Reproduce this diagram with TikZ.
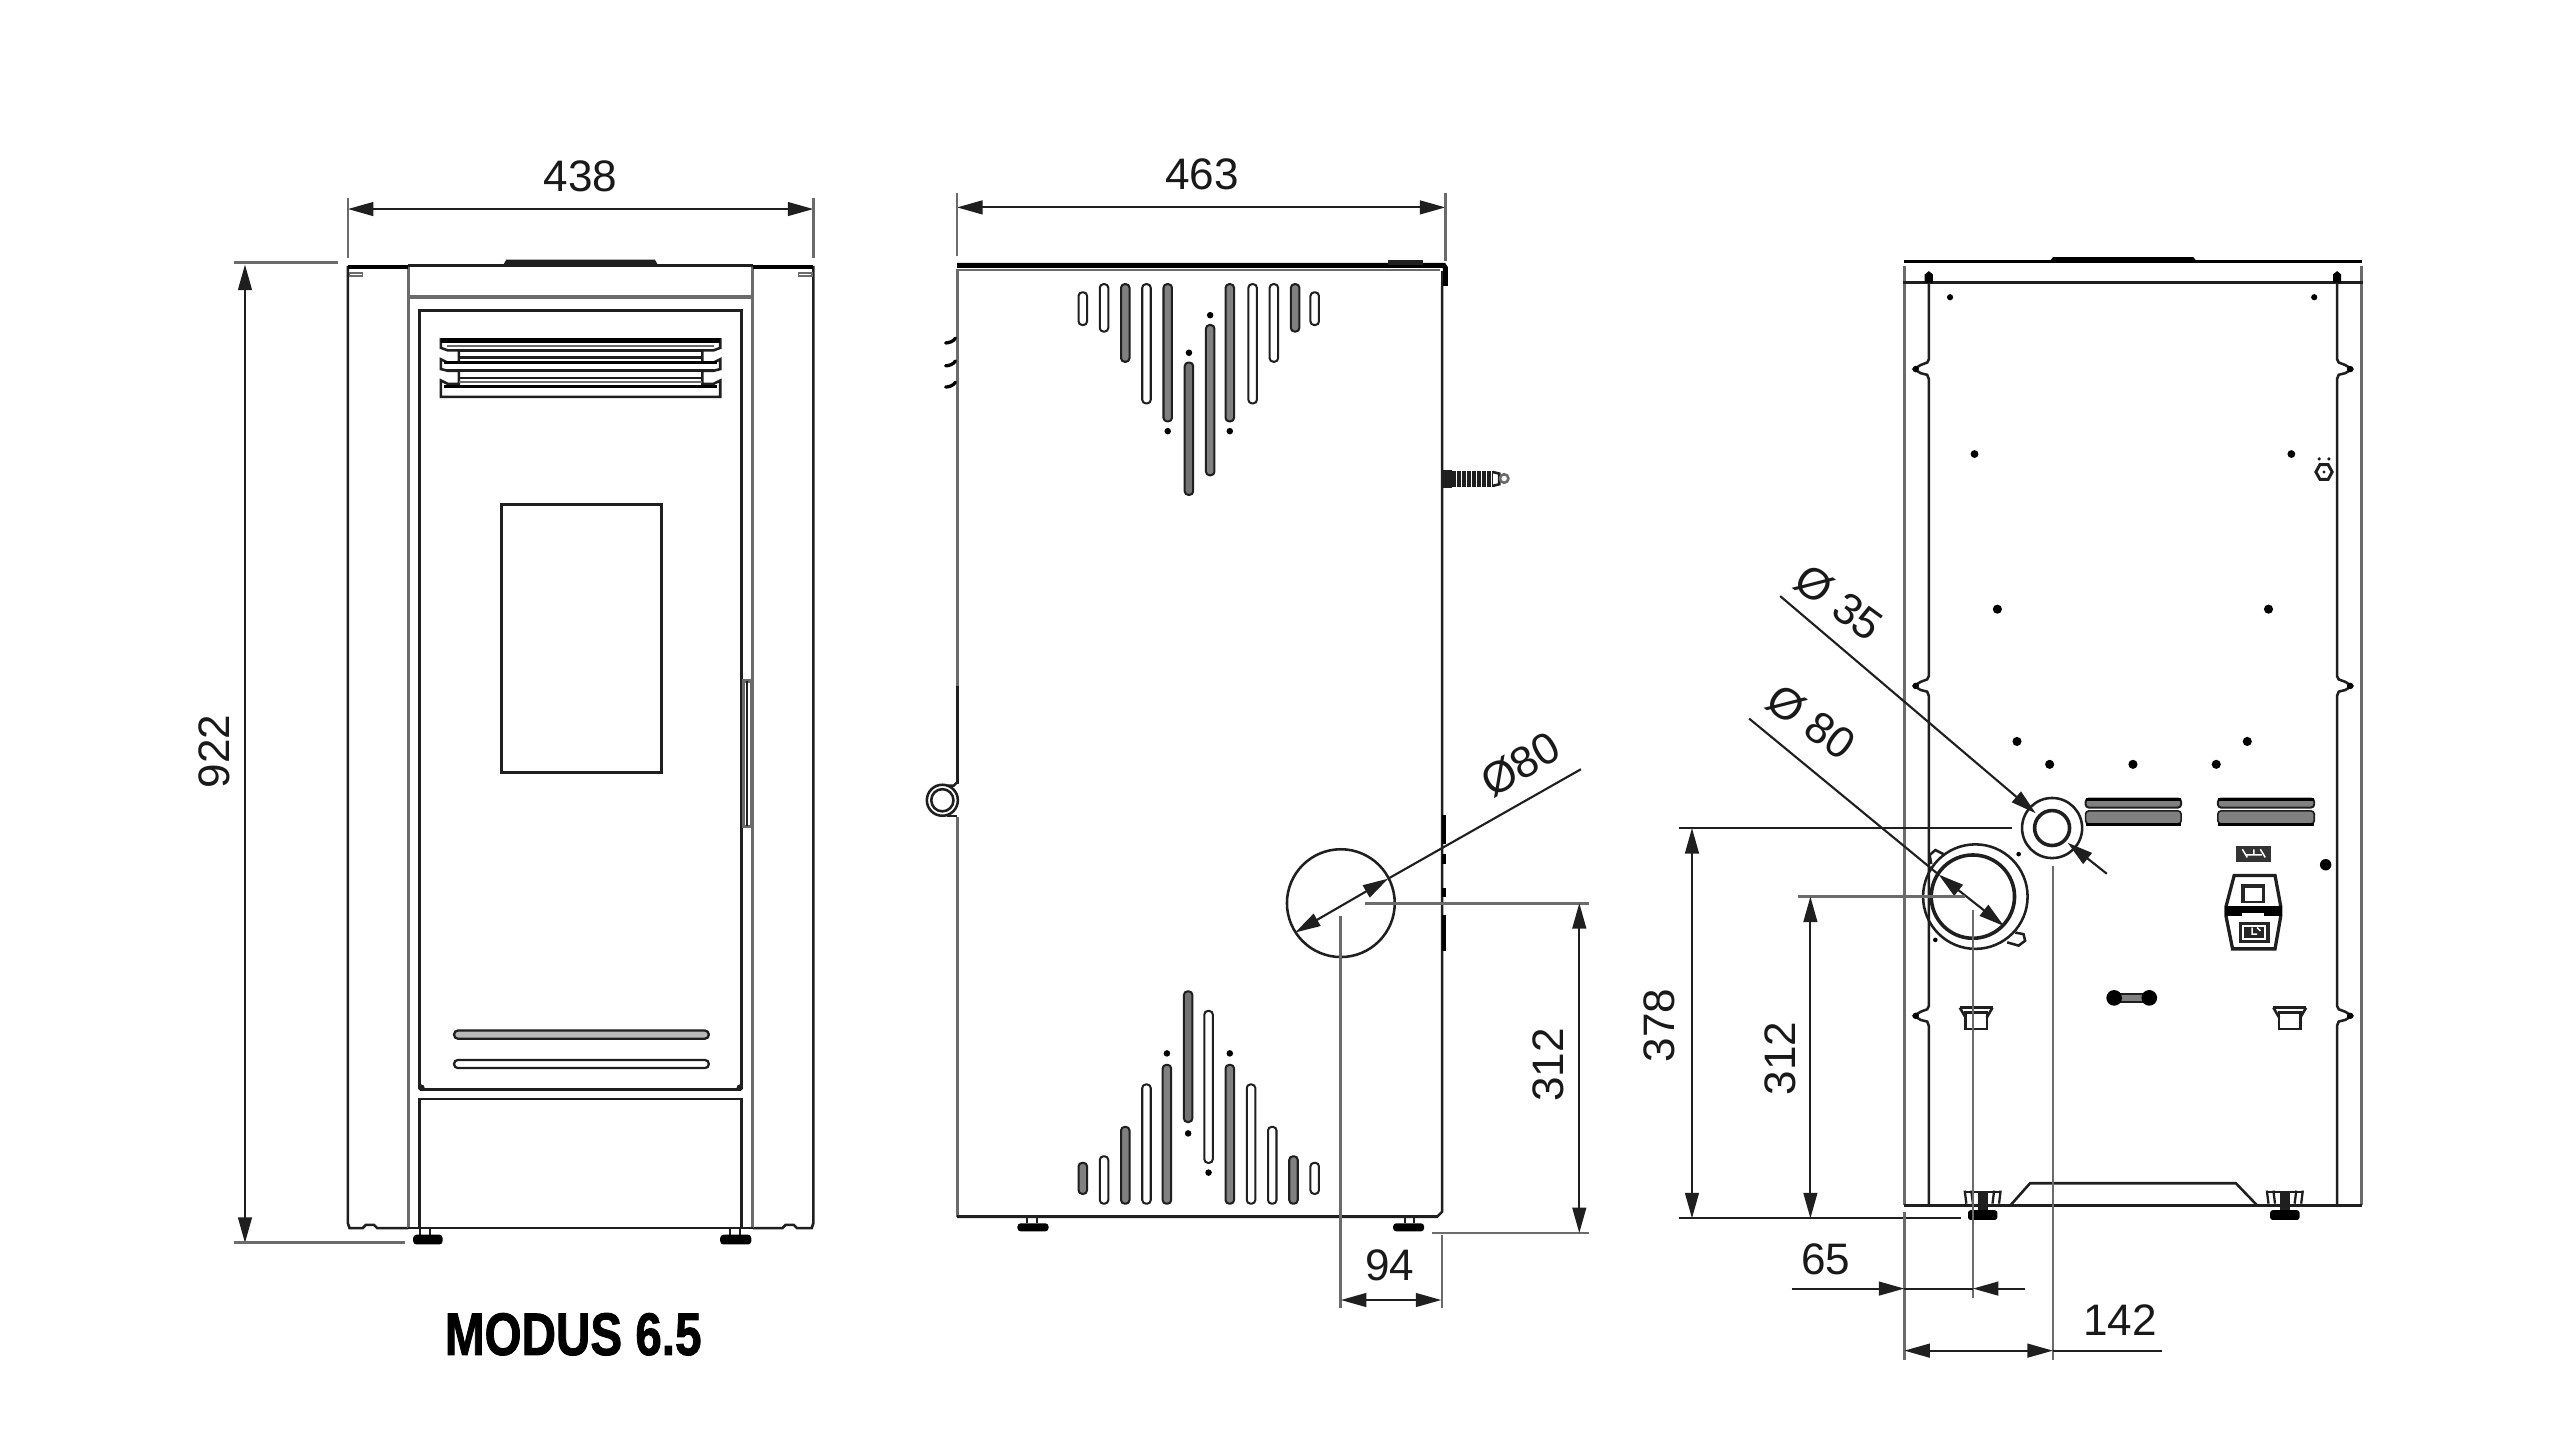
\documentclass[tikz,border=0pt]{standalone}
\usepackage{fontspec}
\setmainfont{Liberation Sans}
\newfontfamily\modfont[FakeBold=1.6]{Liberation Sans Bold}
\usetikzlibrary{arrows.meta}
\definecolor{ln}{gray}{0.12}
\definecolor{gl}{gray}{0.42}
\definecolor{sf}{gray}{0.5}
\tikzset{
  ol/.style={draw=ln,line width=0.78pt},
  hv/.style={draw=black,line width=1.25pt},
  gy/.style={draw=gl,line width=0.95pt},
  dim/.style={draw=ln,line width=0.65pt},
  ext/.style={draw=gl,line width=0.75pt},
  tip/.style={{Triangle[length=7.8pt,width=4.2pt]}-{Triangle[length=7.8pt,width=4.2pt]},draw=ln,line width=0.65pt},
  endtip/.style={-{Triangle[length=7.8pt,width=4.2pt]},draw=ln,line width=0.65pt},
  lab/.style={font=\fontsize{13.5}{15}\selectfont,text=black!90,inner sep=0pt},
  slot/.style={draw=ln,line width=0.62pt,rounded corners=1.1pt,fill=white},
  slotg/.style={draw=ln,line width=0.62pt,rounded corners=1.1pt,fill=sf},
  slotd/.style={draw=ln,line width=0.62pt,rounded corners=1.1pt,fill=black!55},
  dot/.style={fill=black,draw=none}
}
\newcommand{\slt}[4]{\draw[#1] (#2-2.6,#3) rectangle (#2+2.6,#4);}
\begin{document}
\begin{tikzpicture}[x=0.5pt,y=-0.5pt]
\useasboundingbox (0,0) rectangle (1567.5,882.4);
\fill[white] (0,0) rectangle (1567.5,882.4);

%%%%% FRONT VIEW
\draw[ol] (213,163) -- (213,749) -- (214,752) -- (222,752) -- (224,750) -- (229,750) -- (231,752) -- (250,752);
\draw[ol] (498,163) -- (498,749) -- (497,752) -- (488,752) -- (486,750) -- (481,750) -- (479,752) -- (461,752);
\draw[gy] (250,163) -- (250,752);
\draw[gy] (461,163) -- (461,752);
\draw[hv] (213,163.5) -- (250,163.5);
\draw[hv] (461,163.5) -- (498,163.5);
\draw[ol] (250,162.5) -- (461,162.5);
\draw[gy,line width=1.1pt] (250,182) -- (461,182);
\fill[ln] (308,162.5) -- (310,159) -- (401,159) -- (403,162.5) -- cycle;
\draw[gl,line width=0.5pt] (214,167) rectangle (222,169);
\draw[gl,line width=0.5pt] (489,167) rectangle (497,169);
% door
\draw[ol] (257,667) -- (257,190) -- (454,190) -- (454,667);
\draw[ol] (257,752) -- (257,673) -- (454,673) -- (454,752);
\draw[ln,line width=0.8pt] (250,752) -- (461,752);
\fill[ln] (258,666) circle[radius=2];
\fill[ln] (453,666) circle[radius=2];
\draw[ln,line width=0.95pt] (257,667) -- (454,667);
% top grille
\draw[ol] (270,207) -- (270,213) -- (274,214.5) -- (281,214.5) -- (281,222) -- (274,222) -- (270,220) -- (270,226) -- (274,227) -- (281,227) -- (281,235) -- (274,235) -- (270,233) -- (270,243) -- (441,243) -- (441,233) -- (437,235) -- (430,235) -- (430,227) -- (437,227) -- (441,226) -- (441,220) -- (437,222) -- (430,222) -- (430,214.5) -- (437,214.5) -- (441,213) -- (441,207);
\draw[hv] (270,208.5) -- (441,208.5);
\draw[gy,line width=0.6pt] (274,212) -- (437,212);
\draw[ol] (281,214.5) -- (430,214.5);
\draw[ol] (281,219) -- (430,219);
\draw[hv,line width=1pt] (272,222) -- (439,222);
\draw[ol] (274,227) -- (437,227);
\draw[ol] (281,231.5) -- (430,231.5);
\draw[gy,line width=0.6pt] (281,234) -- (430,234);
\draw[hv,line width=1pt] (272,236.5) -- (439,236.5);
% glass
\draw[ol] (307,309) rectangle (405,473);
% handle
\draw[gy] (455,417) rectangle (460,506);
\draw[ln,line width=0.6pt] (457.5,417) -- (457.5,506);
% lower slots
\draw[draw=ln,line width=0.7pt,fill=gray!55,rounded corners=1.2pt] (278,631) rectangle (434,636);
\draw[draw=ln,line width=0.7pt,fill=white,rounded corners=1.2pt] (278,649) rectangle (434,654);
% feet
\draw[ln,line width=0.6pt] (257,752) -- (257,756) (263,752) -- (263,756);
\draw[ln,line width=0.6pt] (447,752) -- (447,756) (453,752) -- (453,756);
\fill[black,rounded corners=1pt] (253,756) rectangle (271,762);
\fill[black,rounded corners=1pt] (441,756) rectangle (460,762);
% dims
\coordinate (fa) at (213,128); \coordinate (fb) at (498,128);
\draw[tip] (fa) -- (fb);
\draw[ext] (213,121) -- (213,158) (498,121) -- (498,158);
\node[lab] (t438) at (355.5,108) {438};
\coordinate (fc) at (150,162); \coordinate (fd) at (150,761);
\draw[tip] (fc) -- (fd);
\draw[ext,line width=0.9pt] (143,161) -- (207,161);
\draw[ext,line width=0.9pt] (143,761) -- (248,761);
\node[lab,rotate=90] (t922) at (131,460) {922};
\node[inner sep=0pt,font=\fontsize{18}{20}\modfont] (tmod) at (351,817) {\scalebox{0.81}[1.02]{MODUS 6.5}};

%%%%% SIDE VIEW
\draw[gy] (586,165) -- (586,420);
\draw[ol,line width=0.95pt] (586,420) -- (586,480);
\draw[gy] (586,500) -- (586,745);
\draw[ol] (883,175) -- (883,742) -- (880,745) -- (586,745);
\draw[ol,line width=1pt] (586,745) -- (880,745);
\draw[hv,line width=1.5pt] (586,162.5) -- (884,162.5) -- (885,164) -- (885,175);
\draw[ol] (883,166) -- (883,175);
\draw[gy,line width=0.6pt] (586,165.5) -- (882,165.5);
\fill[ln] (850,159) rectangle (871,162);
\foreach \yy in {208,222,235}{\draw[black,line width=1pt,line cap=round] (579,\yy+2) .. controls (581,\yy+2) and (584,\yy+1) .. (585,\yy-1);}
% ring
\draw[ol] (577,490) circle[radius=9.5];
\draw[ol] (577,490) circle[radius=6.8];
\draw[ol] (580,481) -- (584,481) -- (586,479);
\draw[ol] (580,499.5) -- (586,499.5);
% connector
\fill[ln] (883,288) rectangle (889,298.5);
\draw[ln,line width=5pt,dash pattern=on 1.1pt off 0.45pt] (889,293.2) -- (914,293.2);
\draw[ln,line width=0.8pt] (914,289) -- (918,290) -- (918,296.5) -- (914,297.5);
\draw[gl,line width=0.8pt] (921,293) circle[radius=2.6];
% vents top
\slt{slot}{663}{179}{199}
\slt{slot}{676}{174}{203}
\slt{slotg}{689}{174}{221.5}
\slt{slot}{702}{174}{247}
\slt{slotg}{715}{174}{258}
\slt{slotd}{728}{222}{303}
\slt{slotg}{741}{199}{291}
\slt{slotg}{753}{174}{258}
\slt{slot}{767}{174}{247}
\slt{slot}{780}{174}{221.5}
\slt{slotg}{793}{174}{203}
\slt{slot}{805}{179}{199}
\foreach \p/\q in {728/216,741/193,715/264,753/264}{\fill[dot] (\p,\q) circle[radius=2];}
% vents bottom
\slt{slotg}{663}{712}{731}
\slt{slot}{676}{708}{737}
\slt{slotg}{689}{690}{737}
\slt{slot}{702}{664}{737}
\slt{slotg}{714.5}{652}{737}
\slt{slotd}{727.5}{607}{687}
\slt{slot}{740}{619}{712}
\slt{slotg}{753}{652}{737}
\slt{slot}{766}{664}{737}
\slt{slot}{779}{690}{737}
\slt{slotg}{792}{708}{737}
\slt{slot}{805}{712}{731}
\foreach \p/\q in {714.5/645,753/645,727.5/694,740/718}{\fill[dot] (\p,\q) circle[radius=2];}
% right edge pieces
\draw[black,line width=1.2pt] (884,499) -- (884,517) (884,523) -- (884,529) (884,544) -- (884,549) (884,560) -- (884,582);
% feet
\draw[ln,line width=0.6pt] (629,745) -- (629,749) (635,745) -- (635,749) (860,745) -- (860,749) (866,745) -- (866,749);
\fill[black,rounded corners=1pt] (623,749) rectangle (642,754);
\fill[black,rounded corners=1pt] (853,749) rectangle (872,754);
% circle and dims
\draw[ol] (821,553) circle[radius=33];
\coordinate (sa) at (793,571); \coordinate (sb) at (850,538); \coordinate (sc) at (968,471);
\draw[dim,{Triangle[length=7.8pt,width=4.2pt]}-{Triangle[length=7.8pt,width=4.2pt]}] (sa) -- (sb);
\draw[dim] (sb) -- (sc);
\node[lab,rotate=30] (t80a) at (931,468) {Ø80};
\draw[tip] (586,127) -- (885,127);
\draw[ext] (586,118) -- (586,157) (885,118) -- (885,160);
\node[lab] (t463) at (736,107) {463};
\draw[ext,line width=0.9pt] (836,553) -- (973,553);
\draw[ext,line width=0.75pt] (877,755) -- (973,755);
\draw[tip] (967,553) -- (967,755);
\node[lab,rotate=90] (t312a) at (948,652) {312};
\draw[ext,line width=0.9pt] (821,561) -- (821,801);
\draw[ext] (883,756) -- (883,801);
\draw[tip] (821,796) -- (882.5,796);
\node[lab] (t94) at (851,775) {94};

%%%%% BACK VIEW
\draw[gy] (1166,163) -- (1166,738);
\draw[gy] (1446,163) -- (1446,738);
\draw[hv,line width=0.95pt] (1166,160) -- (1446,160);
\fill[black] (1255,160) -- (1257,157.5) -- (1343,157.5) -- (1345,160) -- cycle;
\draw[ln,line width=0.8pt] (1165,173) -- (1447,173);
\foreach \xx in {1181,1431}{\fill[black] (\xx-2.5,173) -- (\xx-2.5,168) -- (\xx,166) -- (\xx+2.5,168) -- (\xx+2.5,173) -- cycle;}
\draw[ol] (1181,173) -- (1181,220) -- (1180,222) -- (1176,223.5) -- (1172,226) -- (1176,228.5) -- (1180,229.5) -- (1181,232) -- (1181,414) -- (1180,416) -- (1176,417.5) -- (1172,420) -- (1176,422.5) -- (1180,423.5) -- (1181,426) -- (1181,616) -- (1180,618) -- (1176,619.5) -- (1172,622) -- (1176,624.5) -- (1180,625.5) -- (1181,628) -- (1181,738);
\draw[ol] (1431,173) -- (1431,220) -- (1432,222) -- (1436,223.5) -- (1440,226) -- (1436,228.5) -- (1432,229.5) -- (1431,232) -- (1431,414) -- (1432,416) -- (1436,417.5) -- (1440,420) -- (1436,422.5) -- (1432,423.5) -- (1431,426) -- (1431,616) -- (1432,618) -- (1436,619.5) -- (1440,622) -- (1436,624.5) -- (1432,625.5) -- (1431,628) -- (1431,738);
\foreach \xx/\yy in {1173/226,1173/420,1173/622,1439/226,1439/420,1439/622}{\fill[black] (\xx,\yy) circle[radius=2];}
\draw[ol,line width=0.95pt] (1166,738) -- (1446,738);
\draw[ol] (1231,738) -- (1243,724.5) -- (1369,724.5) -- (1382,738);
% holes
\foreach \p/\q in {1194/182,1417/182}{\fill[dot] (\p,\q) circle[radius=1.9];}
\foreach \p/\q in {1209/278,1403/278}{\fill[dot] (\p,\q) circle[radius=2.4];}
\foreach \p/\q in {1223/373,1389/373,1235/454,1376/454,1255/468,1306/468,1357/468}{\fill[dot] (\p,\q) circle[radius=2.8];}
% nut
\draw[ln,line width=0.9pt] (1418,289) -- (1420.5,284.5) -- (1425.5,284.5) -- (1428,289) -- (1425.5,293.5) -- (1420.5,293.5) -- cycle;
\fill[ln] (1423,289) circle[radius=1];
\fill[ln] (1420,281) circle[radius=1.1];
\fill[ln] (1426,281) circle[radius=1.1];
% vents
\foreach \xa/\xb in {1277/1335.5,1358/1417}{
  \draw[draw=ln,line width=0.6pt,fill=sf,rounded corners=1pt] (\xa,489) rectangle (\xb,494.5);
  \draw[draw=ln,line width=0.5pt,fill=sf,rounded corners=1pt] (\xa,496.5) rectangle (\xb,504.5);
  \draw[black,line width=0.95pt] (\xa,505) -- (\xb,505);
  \draw[black,line width=0.95pt] (\xa,489.5) -- (\xb,489.5);
}
% panel
\fill[black!80] (1369,518) rectangle (1390.5,527.5);
\draw[white,line width=0.45pt] (1373,520) -- (1376,525) (1380,520) -- (1380,523) (1384,520) -- (1387,525) (1375,523.5) -- (1385,523.5);
\draw[ol,line width=1pt] (1368,536) -- (1393,536) -- (1396.5,555) -- (1396.5,561) -- (1393,581) -- (1367,581) -- (1363,561) -- (1363,555) -- cycle;
\fill[black!85] (1372,541.5) rectangle (1387,553);
\fill[white] (1374.8,544) rectangle (1385,551.8);
\fill[black] (1362.5,555) rectangle (1397.2,561);
\fill[white] (1373,559) rectangle (1386,562.5);
\fill[black!85] (1370.7,564.3) rectangle (1390,577.6);
\draw[white,line width=0.5pt] (1373.5,567) rectangle (1387,575);
\draw[white,line width=0.5pt] (1379,568) -- (1379,572) -- (1382,572) (1382,568) -- (1384,570);
\fill[black] (1424,529.5) circle[radius=3.5];
% dumbbell
\fill[sf] (1295,608.5) rectangle (1316,613.5);
\draw[ln,line width=0.6pt] (1295,608.5) -- (1316,608.5) (1295,613.5) -- (1316,613.5);
\fill[black] (1294.5,611) circle[radius=4.8];
\fill[black] (1316,611) circle[radius=4.8];
% cups
\foreach \cx in {1210,1402}{
  \draw[ol] (\cx-6.5,620) rectangle (\cx+6.5,630);
  \draw[ln,line width=1pt] (\cx-10,617) -- (\cx+10,617);
  \draw[ln,line width=0.8pt] (\cx-10,617) -- (\cx-6.5,623) (\cx+10,617) -- (\cx+6.5,623);
}
% back feet
\foreach \cx in {1214,1399}{
  \draw[ln,line width=0.7pt] (\cx-11,730) -- (\cx+11,730);
  \draw[ln,line width=0.7pt] (\cx-11,729) -- (\cx-10,737) (\cx+11,729) -- (\cx+10,737);
  \draw[ln,line width=0.7pt] (\cx-7,729) -- (\cx-6,737) (\cx+7,729) -- (\cx+6,737);
  \fill[ln] (\cx-3,730) rectangle (\cx+3,741);
  \fill[black,rounded corners=0.8pt] (\cx-9,741) rectangle (\cx+9,747);
}
% flue small
\draw[ol] (1256.5,507) circle[radius=18.4];
\draw[ol,line width=1.1pt] (1256.5,507) circle[radius=10.7];
% flue big
\draw[ol] (1209.5,549) circle[radius=32];
\draw[ol,line width=1.1pt] (1208,549) circle[radius=25.5];
\draw[ol] (1182.5,529) -- (1181.5,523.5) -- (1185,520.5) -- (1190,523);
\draw[ol] (1234,571) -- (1239,572) -- (1240,576) -- (1236,579) -- (1229,577);
\foreach \p/\q in {1236/523,1185/575.5}{\fill[dot] (\p,\q) circle[radius=1.4];}
% back dims
\coordinate (ba) at (1090,365); \coordinate (bb) at (1246.5,498); \coordinate (bc) at (1266,516); \coordinate (bd) at (1290,535);
\draw[endtip] (ba) -- (bb);
\draw[endtip] (bd) -- (bc);
\node[lab,rotate=-36] (t35) at (1126,369) {Ø 35};
\coordinate (be) at (1071,440); \coordinate (bf) at (1187,535.5); \coordinate (bg) at (1227,567);
\draw[dim] (be) -- (bf);
\draw[dim,{Triangle[length=7.8pt,width=4.2pt]}-{Triangle[length=7.8pt,width=4.2pt]}] (bf) -- (bg);
\node[lab,rotate=-36] (t80b) at (1109,442) {Ø 80};
\draw[dim] (1028,507) -- (1232,507);
\draw[dim] (1028,746) -- (1201,746);
\draw[ext,line width=0.9pt] (1101,549) -- (1203,549);
\draw[tip] (1036,507) -- (1036,746);
\draw[tip] (1108.5,549) -- (1108.5,746);
\node[lab,rotate=90] (t378) at (1016,628) {378};
\node[lab,rotate=90] (t312b) at (1090,648) {312};
\draw[ext] (1208,557) -- (1208,795);
\draw[ext,line width=0.6pt] (1257,530) -- (1257,833);
\draw[ext] (1166,742) -- (1166,833);
\coordinate (ca) at (1097,789); \coordinate (cb) at (1166,789); \coordinate (cc) at (1208,789); \coordinate (cd) at (1240,789);
\draw[endtip] (ca) -- (cb);
\draw[endtip] (cd) -- (cc);
\draw[dim] (cb) -- (cc);
\node[lab] (t65) at (1118,771) {65};
\coordinate (da) at (1166,827); \coordinate (db) at (1257,827); \coordinate (dc) at (1324,827);
\draw[tip] (da) -- (db);
\draw[dim] (db) -- (dc);
\node[lab] (t142) at (1298,808) {142};
\end{tikzpicture}
\end{document}
